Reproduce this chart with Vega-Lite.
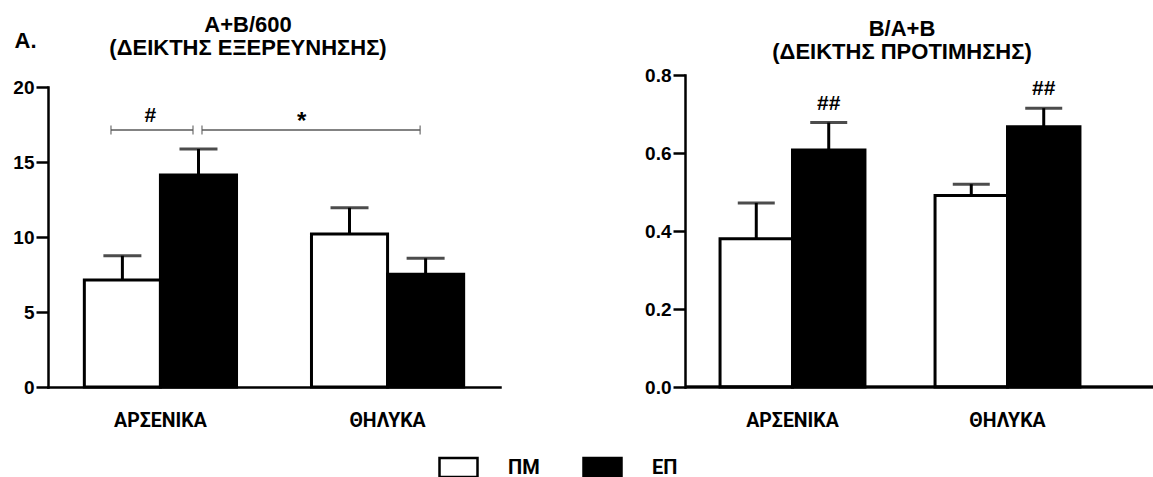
{
  "$schema": "https://vega.github.io/schema/vega-lite/v6.json",
  "background": "white",
  "padding": {"left": 12, "top": 14, "right": 0, "bottom": 0},
  "datasets": {
    "left": [
      {"group": "ΑΡΣΕΝΙΚΑ", "treatment": "ΠΜ", "mean": 7.13, "upper": 8.75},
      {"group": "ΑΡΣΕΝΙΚΑ", "treatment": "ΕΠ", "mean": 14.13, "upper": 15.87},
      {"group": "ΘΗΛΥΚΑ", "treatment": "ΠΜ", "mean": 10.2, "upper": 11.95},
      {"group": "ΘΗΛΥΚΑ", "treatment": "ΕΠ", "mean": 7.51, "upper": 8.58}
    ],
    "right": [
      {"group": "ΑΡΣΕΝΙΚΑ", "treatment": "ΠΜ", "mean": 0.38, "upper": 0.472},
      {"group": "ΑΡΣΕΝΙΚΑ", "treatment": "ΕΠ", "mean": 0.608, "upper": 0.678},
      {"group": "ΘΗΛΥΚΑ", "treatment": "ΠΜ", "mean": 0.491, "upper": 0.52},
      {"group": "ΘΗΛΥΚΑ", "treatment": "ΕΠ", "mean": 0.667, "upper": 0.715}
    ],
    "brackets": [
      {"bracket": "b1", "from": "ΑΡΣΕΝΙΚΑ", "to": "ΑΡΣΕΝΙΚΑ", "y": 17.13},
      {"bracket": "b2", "from": "ΑΡΣΕΝΙΚΑ", "to": "ΘΗΛΥΚΑ", "y": 17.13}
    ],
    "leftNotes": [
      {"note": "n1", "group": "ΑΡΣΕΝΙΚΑ", "label": "#", "y": 17.67},
      {"note": "n2", "group": "ΘΗΛΥΚΑ", "label": "*", "y": 17.67}
    ],
    "rightNotes": [
      {"group": "ΑΡΣΕΝΙΚΑ", "treatment": "ΕΠ", "label": "##", "y": 0.71},
      {"group": "ΘΗΛΥΚΑ", "treatment": "ΕΠ", "label": "##", "y": 0.749}
    ]
  },
  "hconcat": [
    {
      "width": 452,
      "height": 312,
      "title": {"text": ["A+B/600", "(ΔΕΙΚΤΗΣ ΕΞΕΡΕΥΝΗΣΗΣ)"], "dx": -26, "offset": -31, "lineHeight": 23},
      "layer": [
        {
          "data": {"name": "left"},
          "mark": {"type": "rule", "color": "black", "strokeWidth": 3},
          "encoding": {
            "x": {"field": "group", "type": "nominal"},
            "xOffset": {"field": "treatment", "type": "nominal"},
            "y": {"field": "mean", "type": "quantitative"},
            "y2": {"field": "upper"}
          }
        },
        {
          "data": {"name": "left"},
          "mark": {"type": "tick", "color": "black", "thickness": 3, "size": 38, "orient": "horizontal"},
          "encoding": {
            "x": {"field": "group", "type": "nominal"},
            "xOffset": {"field": "treatment", "type": "nominal"},
            "y": {"field": "upper", "type": "quantitative"}
          }
        },
        {
          "data": {"name": "left"},
          "mark": {"type": "bar", "stroke": "black", "strokeWidth": 3, "opacity": 1},
          "encoding": {
            "x": {
              "field": "group", "type": "nominal", "sort": ["ΑΡΣΕΝΙΚΑ", "ΘΗΛΥΚΑ"],
              "scale": {"paddingInner": 0.33, "paddingOuter": 0.16},
              "axis": {"title": null, "domain": true, "ticks": false, "labelAngle": 0, "labelAlign": "center", "labelPadding": 24, "labelBaseline": "top"}
            },
            "xOffset": {"field": "treatment", "type": "nominal", "scale": {"domain": ["ΠΜ", "ΕΠ"], "paddingInner": 0, "paddingOuter": 0}},
            "y": {
              "field": "mean", "type": "quantitative",
              "scale": {"domain": [0, 20], "range": [312, 12], "nice": false},
              "axis": {"values": [0, 5, 10, 15, 20], "title": "A.", "titleAngle": 0, "titleX": -34, "titleY": -28, "titleAlign": "left", "titleBaseline": "alphabetic", "titleFontSize": 22, "titleFont": "Liberation Sans", "titleFontWeight": "bold"}
            },
            "color": {
              "field": "treatment", "type": "nominal",
              "scale": {"domain": ["ΠΜ", "ΕΠ"], "range": ["white", "black"]},
              "legend": {
                "title": null, "orient": "none", "legendX": 390, "legendY": 372, "direction": "horizontal",
                "symbolType": "M-1,-0.5H1V0.5H-1Z", "symbolSize": 1444, "symbolStrokeColor": "black", "symbolStrokeWidth": 2.5,
                "symbolOpacity": 1,
                "labelFont": "Roboto", "labelFontWeight": "bold", "labelFontSize": 20, "labelColor": "black",
                "labelOffset": 29, "columnPadding": 38, "padding": 0
              }
            }
          }
        },
        {
          "data": {"name": "brackets"},
          "transform": [{"filter": "datum.bracket === 'b1'"}],
          "mark": {"type": "rule", "color": "#5a5a5a", "strokeWidth": 1.5},
          "encoding": {
            "x": {"field": "from", "type": "nominal", "bandPosition": 0.175},
            "x2": {"field": "to", "bandPosition": 0.714},
            "y": {"field": "y", "type": "quantitative"}
          }
        },
        {
          "data": {"name": "brackets"},
          "transform": [{"filter": "datum.bracket === 'b2'"}],
          "mark": {"type": "rule", "color": "#5a5a5a", "strokeWidth": 1.5},
          "encoding": {
            "x": {"field": "from", "type": "nominal", "bandPosition": 0.773},
            "x2": {"field": "to", "bandPosition": 0.714},
            "y": {"field": "y", "type": "quantitative"}
          }
        },
        {
          "data": {"name": "brackets"},
          "transform": [{"filter": "datum.bracket === 'b1'"}],
          "mark": {"type": "tick", "color": "#5a5a5a", "thickness": 1.5, "size": 9, "orient": "vertical"},
          "encoding": {
            "x": {"field": "from", "type": "nominal", "bandPosition": 0.175},
            "y": {"field": "y", "type": "quantitative"}
          }
        },
        {
          "data": {"name": "brackets"},
          "transform": [{"filter": "datum.bracket === 'b2'"}],
          "mark": {"type": "tick", "color": "#5a5a5a", "thickness": 1.5, "size": 9, "orient": "vertical"},
          "encoding": {
            "x": {"field": "from", "type": "nominal", "bandPosition": 0.773},
            "y": {"field": "y", "type": "quantitative"}
          }
        },
        {
          "data": {"name": "brackets"},
          "mark": {"type": "tick", "color": "#5a5a5a", "thickness": 1.5, "size": 9, "orient": "vertical"},
          "encoding": {
            "x": {"field": "to", "type": "nominal", "bandPosition": 0.714},
            "y": {"field": "y", "type": "quantitative"}
          }
        },
        {
          "data": {"name": "leftNotes"},
          "transform": [{"filter": "datum.note === 'n1'"}],
          "mark": {"type": "text", "font": "Liberation Sans", "fontWeight": "bold", "fontSize": 21, "baseline": "alphabetic", "dx": -10, "color": "black"},
          "encoding": {
            "x": {"field": "group", "type": "nominal"},
            "y": {"field": "y", "type": "quantitative"},
            "text": {"field": "label"}
          }
        },
        {
          "data": {"name": "leftNotes"},
          "transform": [{"filter": "datum.note === 'n2'"}],
          "mark": {"type": "text", "font": "Liberation Sans", "fontWeight": "bold", "fontSize": 24, "baseline": "alphabetic", "dx": -86, "dy": 7, "color": "black"},
          "encoding": {
            "x": {"field": "group", "type": "nominal"},
            "y": {"field": "y", "type": "quantitative"},
            "text": {"field": "label"}
          }
        }
      ]
    },
    {
      "width": 470,
      "height": 312,
      "title": {"text": ["B/A+B", "(ΔΕΙΚΤΗΣ ΠΡΟΤΙΜΗΣΗΣ)"], "dx": -18, "offset": 2, "lineHeight": 23},
      "layer": [
        {
          "data": {"name": "right"},
          "mark": {"type": "rule", "color": "black", "strokeWidth": 3},
          "encoding": {
            "x": {"field": "group", "type": "nominal"},
            "xOffset": {"field": "treatment", "type": "nominal"},
            "y": {"field": "mean", "type": "quantitative"},
            "y2": {"field": "upper"}
          }
        },
        {
          "data": {"name": "right"},
          "mark": {"type": "tick", "color": "black", "thickness": 3, "size": 37, "orient": "horizontal"},
          "encoding": {
            "x": {"field": "group", "type": "nominal"},
            "xOffset": {"field": "treatment", "type": "nominal"},
            "y": {"field": "upper", "type": "quantitative"}
          }
        },
        {
          "data": {"name": "right"},
          "mark": {"type": "bar", "stroke": "black", "strokeWidth": 3, "opacity": 1},
          "encoding": {
            "x": {
              "field": "group", "type": "nominal", "sort": ["ΑΡΣΕΝΙΚΑ", "ΘΗΛΥΚΑ"],
              "scale": {"range": [0, 430], "paddingInner": 0.326, "paddingOuter": 0.163},
              "axis": {"title": null, "domain": false, "ticks": false, "labelAngle": 0, "labelAlign": "center", "labelPadding": 24, "labelBaseline": "top"}
            },
            "xOffset": {"field": "treatment", "type": "nominal", "scale": {"domain": ["ΠΜ", "ΕΠ"], "paddingInner": 0, "paddingOuter": 0}},
            "y": {
              "field": "mean", "type": "quantitative",
              "scale": {"domain": [0, 0.8], "nice": false},
              "axis": {"values": [0, 0.2, 0.4, 0.6, 0.8], "format": ".1f", "title": null}
            },
            "color": {"field": "treatment", "type": "nominal", "scale": {"domain": ["ΠΜ", "ΕΠ"], "range": ["white", "black"]}}
          }
        },
        {
          "data": {"name": "right"},
          "mark": {"type": "rule", "color": "black", "strokeWidth": 2.5},
          "encoding": {"y": {"datum": 0}}
        },
        {
          "data": {"name": "rightNotes"},
          "mark": {"type": "text", "font": "Liberation Sans", "fontWeight": "bold", "fontSize": 21, "baseline": "alphabetic", "color": "black"},
          "encoding": {
            "x": {"field": "group", "type": "nominal"},
            "xOffset": {"field": "treatment", "type": "nominal"},
            "y": {"field": "y", "type": "quantitative"},
            "text": {"field": "label"}
          }
        }
      ]
    }
  ],
  "spacing": 144,
  "resolve": {
    "scale": {"color": "shared", "xOffset": "independent", "x": "independent", "y": "independent"},
    "legend": {"color": "shared"}
  },
  "config": {
    "view": {"stroke": null},
    "title": {"font": "Liberation Sans", "fontWeight": "bold", "fontSize": 22, "lineHeight": 23, "color": "black", "anchor": "middle", "baseline": "bottom"},
    "axis": {
      "grid": false,
      "domainColor": "black", "domainWidth": 2.5, "domainCap": "square",
      "tickColor": "black", "tickWidth": 2.5, "tickSize": 12,
      "labelFont": "Liberation Sans", "labelFontWeight": "bold", "labelFontSize": 19, "labelColor": "black", "labelPadding": 2
    },
    "axisX": {"labelFont": "Roboto", "labelFontWeight": "bold", "labelFontSize": 19.5},
    "legend": {"labelColor": "black"}
  }
}
